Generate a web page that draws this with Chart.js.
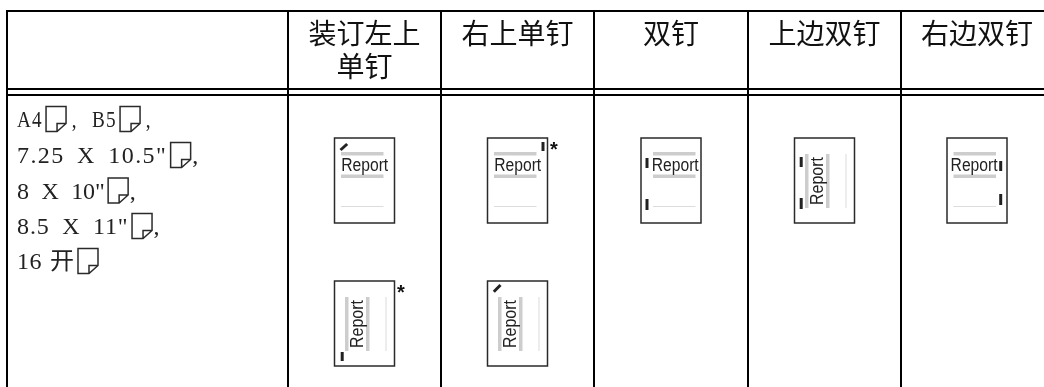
<!DOCTYPE html>
<html>
<head>
<meta charset="utf-8">
<script src="https://cdn.jsdelivr.net/npm/chart.js@4"></script>
<style>
    html, body { margin: 0; padding: 0; background: white; }
    canvas { display: block; }
</style>
</head>
<body>
<canvas id="canvas1" width="1044" height="387"></canvas>
<script>
let headers = [['装订左上', '单钉'], ['右上单钉'], ['双钉'], ['上边双钉'], ['右边双钉']];
// the box stands for the paper icon in the size list
let sizeLines = ['A4□, B5□,', '7.25 X 10.5"□,', '8 X 10"□,', '8.5 X 11"□,', '16 开□'];
let thumbColumns = [0, 1, 2, 3, 4, 0, 1];
let thumbRows = [0, 0, 0, 0, 0, 1, 1];
let thumbKinds = ['topLeft', 'topRight', 'left', 'top', 'right', 'bottomLeftTurned', 'topLeftTurned'];
let thumbStars = [false, true, false, false, false, true, false];

let colEdges = [7, 288, 441, 594, 748, 901, 1053];
let rowEdges = [11, 89, 95];
let rowCenters = [180.5, 323.5];
let lineCenters = [119, 155, 190.5, 226, 261];
// the source font is half width, so each line is fitted by hand
let lineTrack = [1.3, 1.4, -0.1, 0.9, 0.5];
let lineSpace = [18.2, 12.5, 12.5, 12.5, 8];
let lineSquash = [0.8, 1, 1, 1, 1];

let ink = '#2a2a2a';
let grey = '#cdcdcd';
let thin = '#dcdcdc';

function bar(ctx, x, y, w, h, color) {
    ctx.fillStyle = color;
    ctx.fillRect(x, y, w, h);
}

function stroke(ctx, x1, y1, x2, y2, width) {
    ctx.strokeStyle = '#222';
    ctx.lineWidth = width;
    ctx.beginPath();
    ctx.moveTo(x1, y1);
    ctx.lineTo(x2, y2);
    ctx.stroke();
}

function drawPage(ctx, cx, cy, kind, star) {
    let x = cx - 30;
    let y = cy - 42.5;
    ctx.save();
    ctx.strokeStyle = ink;
    ctx.lineWidth = 1.5;
    ctx.strokeRect(x, y, 60, 85);
    ctx.textBaseline = 'alphabetic';
    ctx.font = '18px "Liberation Sans"';

    if (kind === 'top' || kind.indexOf('Turned') > 0) {
        // page turned on its side
        bar(ctx, x + 10.5, y + 16, 3.5, 54, grey);
        bar(ctx, x + 31.5, y + 16, 3.5, 54, grey);
        bar(ctx, x + 51, y + 16, 1, 54, thin);
        ctx.save();
        ctx.translate(x + 28.7, y + 43);
        ctx.rotate(-Math.PI / 2);
        ctx.textAlign = 'center';
        ctx.fillStyle = '#222';
        ctx.fillText('Report', 0, 0, 48);
        ctx.restore();
    } else {
        let left = kind === 'left' ? 12 : 6.5;
        bar(ctx, x + left, y + 14, 42.5, 3.5, grey);
        bar(ctx, x + left, y + 36.5, 42.5, 3.5, grey);
        bar(ctx, x + left, y + 68, 42.5, 1, thin);
        let textX = kind === 'left' ? 10.7 : (kind === 'right' ? 3.6 : 6.7);
        ctx.fillStyle = '#222';
        ctx.fillText('Report', x + textX, y + 33, 47);
    }

    if (kind === 'topLeft') stroke(ctx, x + 6, y + 12, x + 12.7, y + 6, 3);
    if (kind === 'topLeftTurned') stroke(ctx, x + 6.3, y + 10.7, x + 13, y + 4, 3);
    if (kind === 'topRight') stroke(ctx, x + 55.5, y + 4, x + 55.5, y + 13, 3);
    if (kind === 'left') {
        stroke(ctx, x + 6, y + 20, x + 6, y + 30, 3);
        stroke(ctx, x + 6, y + 61, x + 6, y + 72, 3);
    }
    if (kind === 'top') {
        stroke(ctx, x + 6.7, y + 19, x + 6.7, y + 29, 3);
        stroke(ctx, x + 6.7, y + 60, x + 6.7, y + 71, 3);
    }
    if (kind === 'right') {
        stroke(ctx, x + 53.7, y + 23, x + 53.7, y + 33, 3);
        stroke(ctx, x + 53.7, y + 56, x + 53.7, y + 67, 3);
    }
    if (kind === 'bottomLeftTurned') stroke(ctx, x + 7.7, y + 71, x + 7.7, y + 80, 3);

    if (star) {
        ctx.fillStyle = '#111';
        ctx.font = 'bold 20px "Liberation Sans"';
        ctx.textAlign = 'left';
        ctx.fillText('*', x + 62.5, y + 18);
    }
    ctx.restore();
}

function drawPaperIcon(ctx, x, y) {
    ctx.save();
    ctx.strokeStyle = ink;
    ctx.lineWidth = 1.5;
    ctx.beginPath();
    ctx.moveTo(x, y);
    ctx.lineTo(x + 20, y);
    ctx.lineTo(x + 20, y + 17);
    ctx.lineTo(x + 11, y + 25);
    ctx.lineTo(x, y + 25);
    ctx.closePath();
    ctx.moveTo(x + 20, y + 17);
    ctx.lineTo(x + 11, y + 17);
    ctx.lineTo(x + 11, y + 25);
    ctx.stroke();
    ctx.restore();
}

let tablePlugin = {
    id: 'tablePlugin',
    afterDatasetsDraw(chart) {
        let ctx = chart.ctx;
        let xScale = chart.scales.x;
        let yScale = chart.scales.y;

        // headers
        ctx.save();
        ctx.fillStyle = '#111';
        ctx.textAlign = 'center';
        ctx.textBaseline = 'middle';
        ctx.font = '28px "Noto Sans CJK SC"';
        headers.forEach(function (lines, i) {
            let cx = xScale.getPixelForValue((colEdges[i + 1] + colEdges[i + 2]) / 2);
            lines.forEach(function (line, j) {
                ctx.fillText(line, cx, yScale.getPixelForValue(33 + j * 33));
            });
        });
        ctx.restore();

        // size list in the first column
        let startX = xScale.getPixelForValue(17);
        sizeLines.forEach(function (line, i) {
            let cy = yScale.getPixelForValue(lineCenters[i]);
            let text = line.split('□').join('  ');
            ctx.save();
            ctx.fillStyle = '#222';
            ctx.textAlign = 'left';
            ctx.textBaseline = 'alphabetic';
            ctx.font = '24px "Liberation Serif", "Noto Sans CJK SC"';
            ctx.letterSpacing = lineTrack[i] + 'px';
            ctx.wordSpacing = (lineSpace[i] - 6 - lineTrack[i]) + 'px';
            let from = 0;
            while ((from = line.indexOf('□', from)) >= 0) {
                let before = line.slice(0, from).split('□').join('  ');
                drawPaperIcon(ctx, startX + ctx.measureText(before).width * lineSquash[i] + 3.5, cy - 12.5);
                from++;
            }
            ctx.translate(startX, cy + 8);
            ctx.scale(lineSquash[i], 1);
            ctx.fillText(text, 0, 0);
            ctx.restore();
        });

        // thumbnails sit on the points of the dataset
        chart.getDatasetMeta(0).data.forEach(function (point, i) {
            drawPage(ctx, point.x, point.y, thumbKinds[i], thumbStars[i]);
        });
    }
};

document.addEventListener('DOMContentLoaded', function () {
    let canvas1 = document.getElementById("canvas1");
    let points = thumbColumns.map(function (col, i) {
        return { x: (colEdges[col + 1] + colEdges[col + 2]) / 2, y: rowCenters[thumbRows[i]] };
    });

    let chart1 = new Chart(canvas1, {
        type: 'scatter',
        data: {
            datasets: [{
                label: 'Report',
                data: points,
                pointRadius: 0
            }]
        },
        options: {
            responsive: false,
            animation: false,
            layout: { padding: { left: 6, top: 10, right: 0, bottom: 0 } },
            plugins: {
                legend: { display: false },
                tooltip: { enabled: false }
            },
            scales: {
                x: {
                    type: 'linear',
                    min: 6,
                    max: 1044,
                    border: { display: false },
                    ticks: { display: false },
                    grid: { color: 'black', lineWidth: 2, drawTicks: false },
                    afterBuildTicks: function (scale) {
                        scale.ticks = colEdges.filter(function (v) { return v <= 1044; }).map(function (v) { return { value: v }; });
                    }
                },
                y: {
                    type: 'linear',
                    reverse: true,
                    min: 10,
                    max: 387,
                    border: { display: false },
                    ticks: { display: false },
                    grid: { color: 'black', lineWidth: 2, drawTicks: false },
                    afterBuildTicks: function (scale) {
                        scale.ticks = rowEdges.map(function (v) { return { value: v }; });
                    }
                }
            }
        },
        plugins: [tablePlugin]
    });
});
</script>
</body>
</html>
